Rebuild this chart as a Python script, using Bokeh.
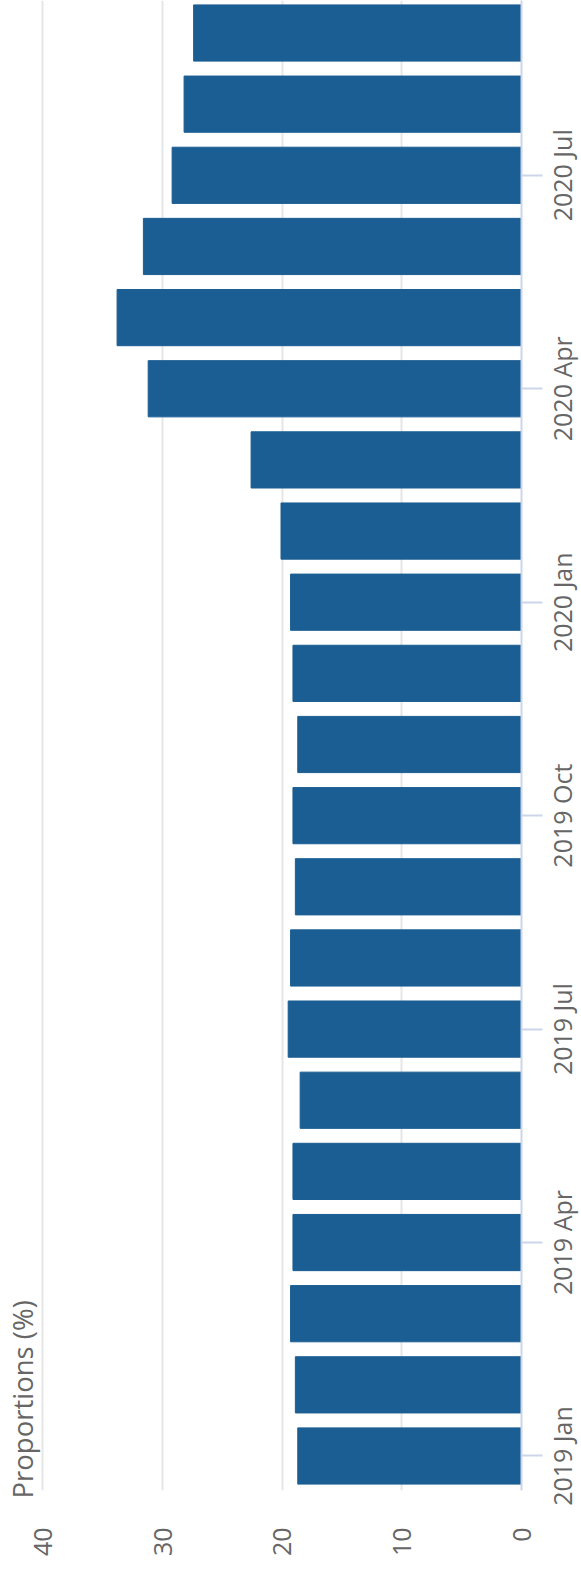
import math
from bokeh.plotting import figure
from bokeh.models import Range1d, FixedTicker, Title, ColumnDataSource
from bokeh.core.properties import value
from bokeh.embed import file_html
from bokeh.resources import INLINE

# ---- data ----
months = ["2019 Jan", "2019 Feb", "2019 Mar", "2019 Apr", "2019 May", "2019 Jun",
          "2019 Jul", "2019 Aug", "2019 Sep", "2019 Oct", "2019 Nov", "2019 Dec",
          "2020 Jan", "2020 Feb", "2020 Mar", "2020 Apr", "2020 May", "2020 Jun",
          "2020 Jul", "2020 Aug", "2020 Sep"]
proportions = [18.7, 18.9, 19.3, 19.1, 19.1, 18.5, 19.5, 19.3, 18.9, 19.1, 18.7, 19.1,
               19.3, 20.1, 22.6, 31.2, 33.8, 31.6, 29.2, 28.2, 27.4]
month_ticks = ["2019 Jan", "2019 Apr", "2019 Jul", "2019 Oct", "2020 Jan", "2020 Apr", "2020 Jul"]
value_ticks = [0, 10, 20, 30, 40]
axis_title = "Proportions (%)"

idx = list(range(len(months)))
tick_pos = [months.index(m) for m in month_ticks]

source = ColumnDataSource(dict(y=idx, value=proportions, month=months))
label_src = ColumnDataSource(dict(x=[value_ticks[0]] * len(month_ticks), y=tick_pos,
                                  text=month_ticks))

FONT = "Open Sans"
GREY = "#666666"

p = figure(width=581, height=1574,
           x_range=Range1d(40.2, 0), y_range=Range1d(-0.485, 20.457),
           y_axis_location="right", x_axis_location="below",
           output_backend="svg", toolbar_location=None,
           min_border_left=40, min_border_right=60, min_border_top=0, min_border_bottom=84,
           outline_line_color=None, background_fill_color="white")

p.hbar(y="y", left=0, right="value", height=0.79, source=source,
       fill_color="#1b5e93", line_color="#1b5e93", line_width=1)

# value axis (bottom)
xa = p.xaxis[0]
xa.ticker = FixedTicker(ticks=value_ticks)
xa.axis_line_color = None
xa.major_tick_line_color = None
xa.minor_tick_line_color = None
xa.major_tick_out = 0
xa.major_tick_in = 0
xa.major_label_orientation = math.pi / 2
xa.major_label_standoff = 37
xa.major_label_text_font = FONT
xa.major_label_text_font_size = "25px"
xa.major_label_text_color = GREY

# month axis (right): line + ticks from the axis, labels centred on the ticks
ya = p.yaxis[0]
ya.ticker = FixedTicker(ticks=tick_pos)
ya.axis_line_color = "#ccd6eb"
ya.axis_line_width = 2
ya.major_tick_line_color = "#ccd6eb"
ya.major_tick_line_width = 2
ya.major_tick_out = 21
ya.major_tick_in = 0
ya.minor_tick_line_color = None
ya.major_label_text_color = None
ya.major_label_text_font_size = "10px"

p.text(x="x", y="y", text="text", source=label_src, angle=math.pi / 2,
       x_offset=40, text_align="center", text_baseline="middle",
       text_font=value(FONT), text_font_size="25px", text_color=GREY,
       level="overlay")

p.xgrid.ticker = FixedTicker(ticks=value_ticks)
p.xgrid.grid_line_color = "#e6e6e6"
p.xgrid.grid_line_width = 2
p.ygrid.grid_line_color = None

t = Title(text=axis_title, align="left", text_font=FONT, text_font_size="27.5px",
          text_font_style="normal", text_color=GREY, standoff=0, offset=-8)
p.add_layout(t, "left")

open("out.html", "w").write(file_html(p, INLINE))
